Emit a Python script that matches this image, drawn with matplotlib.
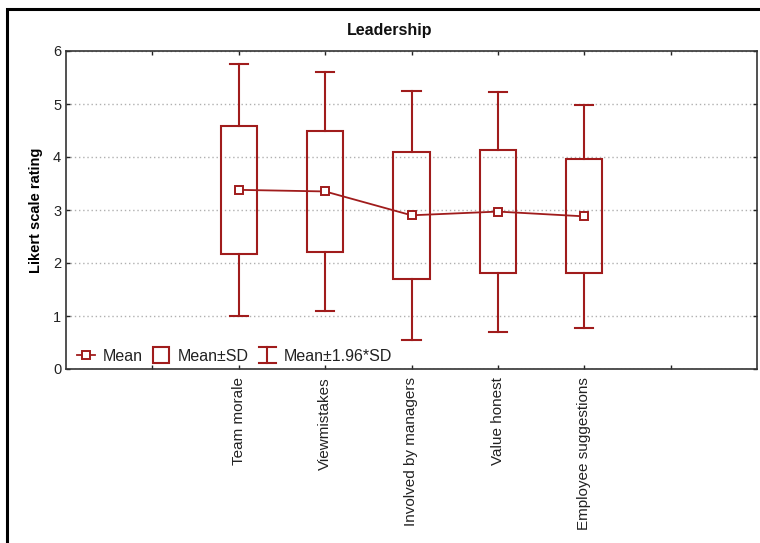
import matplotlib
matplotlib.use("Agg")
import matplotlib.pyplot as plt
from matplotlib.lines import Line2D
from matplotlib.patches import Rectangle
from matplotlib.legend_handler import HandlerBase

plt.rcParams['font.family'] = ['Liberation Sans', 'DejaVu Sans']

# Survey items and their rating statistics
categories = ["Team morale", "Viewmistakes", "Involved by managers",
              "Value honest", "Employee suggestions"]
means = [3.38, 3.35, 2.90, 2.97, 2.88]
sds = [1.21, 1.15, 1.20, 1.155, 1.075]
title = "Leadership"
ylabel = "Likert scale rating"
yticks = [0, 1, 2, 3, 4, 5, 6]

RED = "#a01c1c"
positions = [2, 3, 4, 5, 6]

fig = plt.figure(figsize=(7.6, 5.43), dpi=100)
ax = fig.add_axes([66 / 760, 1 - 369 / 543, (757 - 66) / 760, (369 - 51) / 543])

box_w = 0.42
cap_w = 0.21
for x, m, s in zip(positions, means, sds):
    lo_sd, hi_sd = m - s, m + s
    lo_w, hi_w = m - 1.96 * s, m + 1.96 * s
    ax.add_patch(Rectangle((x - box_w / 2, lo_sd), box_w, 2 * s,
                           facecolor="none", edgecolor=RED, lw=1.5, zorder=3))
    ax.plot([x, x], [hi_sd, hi_w], color=RED, lw=1.5, zorder=3)
    ax.plot([x, x], [lo_w, lo_sd], color=RED, lw=1.5, zorder=3)
    ax.plot([x - cap_w / 2, x + cap_w / 2], [hi_w, hi_w], color=RED, lw=1.5, zorder=3)
    ax.plot([x - cap_w / 2, x + cap_w / 2], [lo_w, lo_w], color=RED, lw=1.5, zorder=3)

ax.plot(positions, means, color=RED, lw=1.3, marker="s", markersize=5.5,
        markerfacecolor="white", markeredgecolor=RED, markeredgewidth=1.4, zorder=4)

ax.set_xlim(0, 8)
ax.set_ylim(0, 6)
ax.set_yticks(yticks)
ax.set_xticks(range(1, 8))
ax.set_xticklabels(["", *categories, ""], rotation=90, fontsize=11)
ax.tick_params(axis="both", direction="in", length=3, width=1,
               top=True, right=True, labelsize=10.5, colors="#222222")
ax.tick_params(axis="x", pad=6, labelsize=11)
ax.yaxis.grid(True, linestyle=(0, (1, 2)), color="#b0b0b0", lw=1)
ax.set_axisbelow(True)
for sp in ax.spines.values():
    sp.set_color("#333333")
    sp.set_linewidth(1.2)

fig.text(390 / 760, 1 - 31 / 543, title, fontsize=11.5, fontweight="bold",
         ha="center", va="center", color="#111111")
ax.set_ylabel(ylabel, fontsize=10.5, fontweight="bold", labelpad=7)


class IBeamHandler(HandlerBase):
    def create_artists(self, legend, orig_handle, xdescent, ydescent,
                       width, height, fontsize, trans):
        cx = width / 2 - xdescent
        y0, y1 = -ydescent - 2, height - ydescent + 2
        hw = 6
        arts = [Line2D([cx, cx], [y0, y1]),
                Line2D([cx - hw, cx + hw], [y0, y0]),
                Line2D([cx - hw, cx + hw], [y1, y1])]
        for a in arts:
            a.set_color(RED)
            a.set_linewidth(1.5)
            a.set_transform(trans)
        return arts


class BoxHandler(HandlerBase):
    def create_artists(self, legend, orig_handle, xdescent, ydescent,
                       width, height, fontsize, trans):
        w = height + 4
        x0 = width / 2 - xdescent - w / 2
        r = Rectangle((x0, -ydescent - 2), w, height + 4, facecolor="none",
                      edgecolor=RED, lw=1.5, transform=trans)
        return [r]


h_mean = Line2D([], [], color=RED, lw=1.3, marker="s", markersize=5.5,
                markerfacecolor="white", markeredgecolor=RED, markeredgewidth=1.4)
h_box = Rectangle((0, 0), 1, 1)
h_whisk = object()
leg = ax.legend([h_mean, h_box, h_whisk], ["Mean", "Mean±SD", "Mean±1.96*SD"],
                handler_map={Rectangle: BoxHandler(), object: IBeamHandler()},
                loc="lower left", bbox_to_anchor=(0.0, -0.018), ncol=3,
                frameon=False, fontsize=11.5, handlelength=1.1, handletextpad=0.5,
                columnspacing=0.6, borderaxespad=0.3)
for t in leg.get_texts():
    t.set_color("#222222")

# outer frame around the whole figure
fig.patches.append(Rectangle((7 / 760, -0.05), (780 - 7) / 760, 1.05 - 9 / 543,
                             transform=fig.transFigure, facecolor="none",
                             edgecolor="black", lw=2.2))

fig.savefig("out.png", dpi=100, facecolor="white")
